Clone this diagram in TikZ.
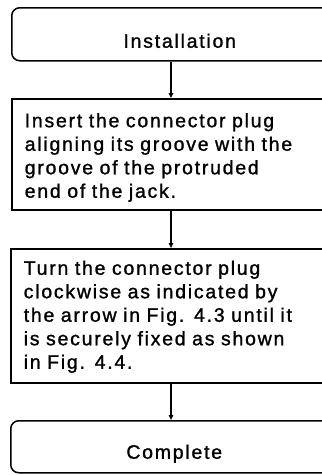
\documentclass[tikz,border=0pt]{standalone}
\usepackage{fontspec}
\setmainfont{Liberation Sans}[LetterSpace=9,FakeBold=1.2]
\usetikzlibrary{arrows.meta}
\newcommand\myflowfont{\fontsize{19.5}{23.5}\selectfont\spaceskip=9pt plus 2pt minus 1pt\relax}
\tikzset{
  txt/.style={font=\myflowfont, inner sep=0pt},
  rbox/.style={txt, draw, line width=1.5pt, rounded corners=8pt, anchor=north west, text depth=0pt},
  sbox/.style={txt, draw, line width=1.5pt, anchor=north west, align=left, text width=320pt, inner xsep=13pt},
  arr/.style={line width=1.2pt, -{Triangle[length=5pt,width=4.5pt]}}
}
\begin{document}
\begin{tikzpicture}[x=1pt,y=-1pt]
\useasboundingbox (0,0) rectangle (322,475);
\clip (0,0) rectangle (322,475);
\node[rbox, minimum width=336pt, minimum height=53pt, text height=27pt] (inst) at (11,7) {Installation};
\node[sbox, minimum height=111pt, text height=20pt, text depth=74pt] (s1) at (11,98) {Insert the connector plug\\aligning its groove with the\\groove of the protruded\\end of the jack.};
\node[sbox, minimum height=134pt, text height=16pt, text depth=98pt] (s2) at (10,248) {Turn the connector plug\\clockwise as indicated by\\the arrow in Fig. 4.3 until it\\is securely fixed as shown\\in Fig. 4.4.};
\node[rbox, minimum width=327pt, minimum height=52pt, text height=24pt] (done) at (10,420) {Complete};
\coordinate (ax) at (171,0);
\draw[arr] (inst.south -| ax) -- (s1.north -| ax);
\draw[arr] (s1.south -| ax) -- (s2.north -| ax);
\draw[arr] (s2.south -| ax) -- (done.north -| ax);
\end{tikzpicture}
\end{document}
